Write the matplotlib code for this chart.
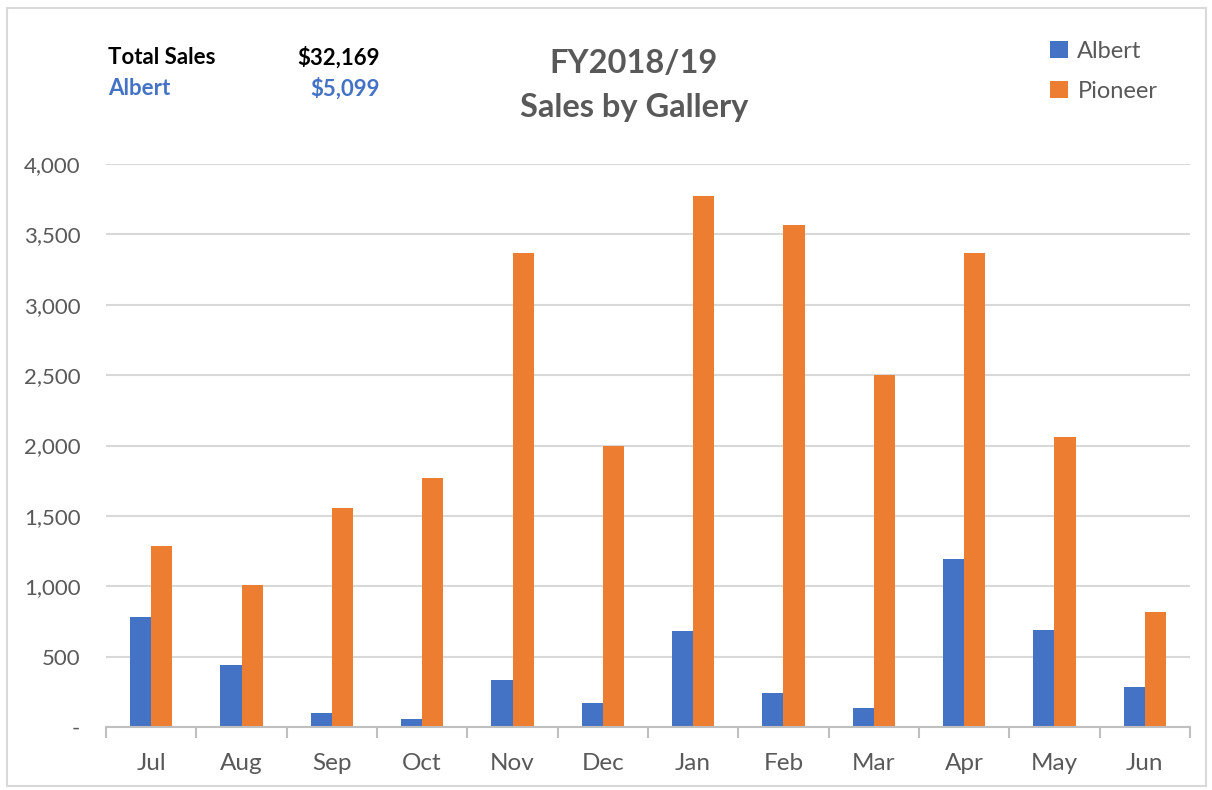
# FY2018/19 sales by gallery - clustered column chart

import matplotlib.pyplot as plt
import numpy as np
from matplotlib.patches import Rectangle

months = ["Jul", "Aug", "Sep", "Oct", "Nov", "Dec", "Jan", "Feb", "Mar", "Apr", "May", "Jun"]
albert = [780, 440, 99, 57, 333, 170, 681, 241, 135, 1191, 688, 284]
pioneer = [1284, 1007, 1553, 1766, 3369, 2000, 3775, 3570, 2504, 3369, 2057, 816]
series_names = ["Albert", "Pioneer"]
yticks = [0, 500, 1000, 1500, 2000, 2500, 3000, 3500, 4000]

BLUE = "#4472C4"
ORANGE = "#ED7D31"
GRAY = "#595959"

plt.rcParams["font.family"] = ["Lato", "DejaVu Sans"]

fig = plt.figure(figsize=(12.12, 7.9), dpi=100)
ax = fig.add_axes([0.0875, 0.0797, 0.8943, 0.7127])

x = np.arange(len(months))
w = 0.235
ax.bar(x - w / 2, albert, width=w, color=BLUE, label=series_names[0])
ax.bar(x + w / 2, pioneer, width=w, color=ORANGE, label=series_names[1])

ax.set_xlim(-0.5, len(months) - 0.5)
ax.set_ylim(0, 4000)
ax.set_yticks(yticks)
ax.set_yticklabels(["-" if v == 0 else f"{v:,}" for v in yticks])
ax.tick_params(axis="y", length=0, pad=18.5, labelsize=16, labelcolor=GRAY)
ax.yaxis.grid(True, color="#D9D9D9", linewidth=1.5)
ax.set_axisbelow(True)

# category labels at centres, tick marks at boundaries
ax.set_xticks(np.arange(-0.5, len(months)), minor=False)
ax.set_xticklabels([])
ax.set_xticks(x, minor=True)
ax.set_xticklabels(months, minor=True)
ax.tick_params(axis="x", which="major", length=8, width=1.5, color="#BFBFBF", direction="out")
ax.tick_params(axis="x", which="minor", length=0, pad=19, labelsize=17.5, labelcolor=GRAY)

for s in ["top", "right", "left"]:
    ax.spines[s].set_visible(False)
ax.spines["bottom"].set_color("#BFBFBF")
ax.spines["bottom"].set_linewidth(1.5)

fig.text(0.523, 0.920, "FY2018/19", ha="center", va="center", fontsize=23.5,
         fontweight="bold", color=GRAY)
fig.text(0.523, 0.864, "Sales by Gallery", ha="center", va="center", fontsize=23.5,
         fontweight="bold", color=GRAY)

total = sum(albert) + sum(pioneer)
fig.text(0.089, 0.927, "Total Sales", ha="left", va="center", fontsize=16,
         fontweight="bold", color="black")
fig.text(0.313, 0.927, f"${total:,}", ha="right", va="center", fontsize=16,
         fontweight="bold", color="black")
fig.text(0.089, 0.888, "Albert", ha="left", va="center", fontsize=16,
         fontweight="bold", color=BLUE)
fig.text(0.313, 0.888, f"${sum(albert):,}", ha="right", va="center", fontsize=16,
         fontweight="bold", color=BLUE)

leg = fig.legend(loc="upper left", bbox_to_anchor=(0.849, 0.975), frameon=False,
                 fontsize=17, handlelength=0.75, handleheight=0.75, handletextpad=0.4,
                 labelspacing=0.8, labelcolor=GRAY)

fig.patches.append(Rectangle((0.006, 0.005), 0.989, 0.985, transform=fig.transFigure,
                             fill=False, edgecolor="#D9D9D9", linewidth=1.5))

plt.savefig("out.png", dpi=100)
